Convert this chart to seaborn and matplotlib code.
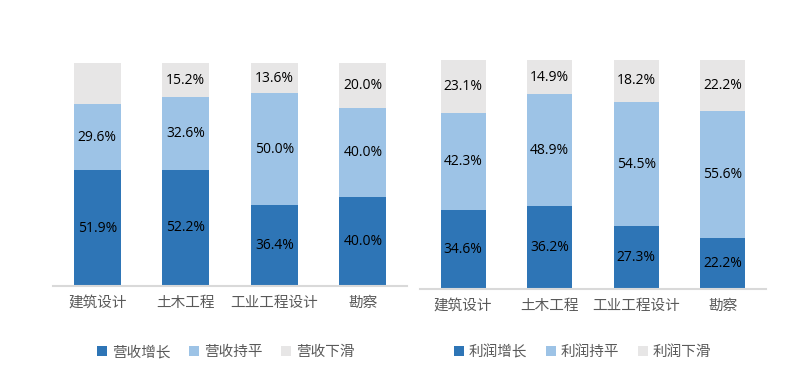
import numpy as np
import pandas as pd
import matplotlib.pyplot as plt
import seaborn as sns
from matplotlib.patches import Patch

# data
categories = ['建筑设计', '土木工程', '工业工程设计', '勘察']
rev_up = [51.9, 52.2, 36.4, 40.0]
rev_flat = [29.6, 32.6, 50.0, 40.0]
rev_down = [18.5, 15.2, 13.6, 20.0]
rev_down_shown = [False, True, True, True]   # first label not shown in original
prof_up = [34.6, 36.2, 27.3, 22.2]
prof_flat = [42.3, 48.9, 54.5, 55.6]
prof_down = [23.1, 14.9, 18.2, 22.2]
rev_names = ['营收增长', '营收持平', '营收下滑']
prof_names = ['利润增长', '利润持平', '利润下滑']

sns.set_style('white')
plt.rcParams['font.family'] = ['Noto Sans CJK SC', 'DejaVu Sans']

c_up, c_flat, c_down = '#2E75B6', '#9DC3E6', '#E7E6E6'
txt_grey = '#595959'
num_font = ['Open Sans', 'DejaVu Sans']

fig = plt.figure(figsize=(8.03, 3.79), dpi=100)
ax1 = fig.add_axes([0.066, 0.2454, 0.441, 0.588])
ax2 = fig.add_axes([0.523, 0.2375, 0.431, 0.604])


def stacked(ax, up, flat, down, shown, width):
    df = pd.DataFrame({'cat': categories, 'up': up, 'flat': flat, 'down': down})
    df['s2'] = df['up'] + df['flat']
    df['s3'] = df['s2'] + df['down']
    # draw from the top layer down so each overlays the previous
    sns.barplot(data=df, x='cat', y='s3', color=c_down, width=width, ax=ax,
                saturation=1, edgecolor='none')
    sns.barplot(data=df, x='cat', y='s2', color=c_flat, width=width, ax=ax,
                saturation=1, edgecolor='none')
    sns.barplot(data=df, x='cat', y='up', color=c_up, width=width, ax=ax,
                saturation=1, edgecolor='none')
    for i, r in df.iterrows():
        ax.text(i, r['up'] / 2, f"{r['up']:.1f}%", ha='center', va='center',
                fontsize=10, color='black', family=num_font)
        ax.text(i, r['up'] + r['flat'] / 2, f"{r['flat']:.1f}%", ha='center',
                va='center', fontsize=10, color='black', family=num_font)
        if shown[i]:
            ax.text(i, r['s2'] + r['down'] / 2, f"{r['down']:.1f}%", ha='center',
                    va='center', fontsize=10, color='black', family=num_font)
    ax.set_ylim(0, 100)
    ax.set_xlim(-0.5, 3.5)
    ax.set_xlabel('')
    ax.set_ylabel('')
    ax.set_yticks([])
    for s in ['top', 'right', 'left']:
        ax.spines[s].set_visible(False)
    ax.spines['bottom'].set_color('#D9D9D9')
    ax.spines['bottom'].set_linewidth(1.5)
    ax.tick_params(axis='x', length=0, pad=7, labelsize=10.5, labelcolor=txt_grey)


stacked(ax1, rev_up, rev_flat, rev_down, rev_down_shown, 0.53)
stacked(ax2, prof_up, prof_flat, prof_down, [True] * 4, 0.52)

for names, xc in [(rev_names, 0.281), (prof_names, 0.725)]:
    handles = [Patch(facecolor=c, edgecolor='none') for c in (c_up, c_flat, c_down)]
    leg = fig.legend(handles, names, loc='center', bbox_to_anchor=(xc, 0.071),
                     ncol=3, frameon=False, fontsize=10.5, handlelength=0.7,
                     handleheight=0.7, handletextpad=0.3, columnspacing=1.3)
    for t in leg.get_texts():
        t.set_color(txt_grey)

plt.savefig('out.png', dpi=100)
